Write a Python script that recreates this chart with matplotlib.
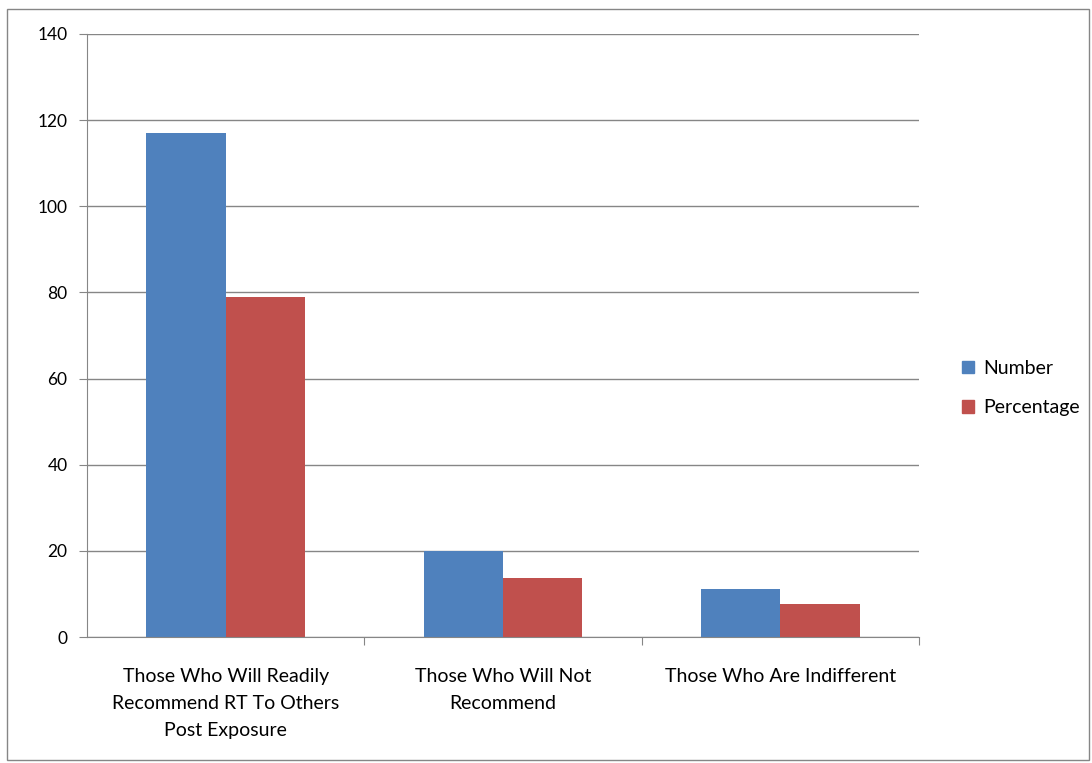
import matplotlib
matplotlib.use("Agg")
import matplotlib.pyplot as plt
from matplotlib.patches import Rectangle, Patch
import numpy as np

categories = ["Those Who Will Readily\nRecommend RT To Others\nPost Exposure",
              "Those Who Will Not\nRecommend",
              "Those Who Are Indifferent"]
number = [117, 20, 11.2]
percentage = [79, 13.6, 7.7]
yticks = [0, 20, 40, 60, 80, 100, 120, 140]

plt.rcParams['font.family'] = ['Lato', 'DejaVu Sans']

fig = plt.figure(figsize=(10.92, 7.63), dpi=100)
ax = fig.add_axes([87/1092, 1-637/763, (919-87)/1092, (637-34)/763])

# outer chart border
fig.patches.append(Rectangle((7/1092, 3/763), 1082/1092, 751/763, transform=fig.transFigure,
                             fill=False, edgecolor='#868686', linewidth=1))

x = np.arange(len(categories))
w = 1/3.5
ax.bar(x - w/2, number, w, color='#4F81BD', label='Number')
ax.bar(x + w/2, percentage, w, color='#C0504D', label='Percentage')

ax.set_xlim(-0.5, 2.5)
ax.set_ylim(0, 140)
ax.set_yticks(yticks)
ax.set_yticklabels([str(t) for t in yticks], fontsize=12.5)
ax.yaxis.grid(True, color='#868686', linewidth=1)
ax.set_axisbelow(True)

ax.set_xticks([0.5, 1.5, 2.5], minor=False)
ax.set_xticklabels([])
ax.set_xticks(x, minor=True)
ax.set_xticklabels(categories, minor=True, fontsize=14, linespacing=1.72)
ax.tick_params(axis='x', which='minor', length=0, pad=22)
ax.tick_params(axis='x', which='major', length=6, color='#868686')
ax.tick_params(axis='y', length=6, color='#868686', pad=8)

for s in ['top', 'right']:
    ax.spines[s].set_visible(False)
for s in ['left', 'bottom']:
    ax.spines[s].set_color('#868686')

handles = [Patch(color='#4F81BD', label='Number'), Patch(color='#C0504D', label='Percentage')]
fig.legend(handles=handles, loc='center left', bbox_to_anchor=(944/1092, 1-388/763),
           frameon=False, fontsize=14, handlelength=0.65, handleheight=0.65,
           handletextpad=0.45, labelspacing=1.15)

fig.savefig("out.png", dpi=100)
